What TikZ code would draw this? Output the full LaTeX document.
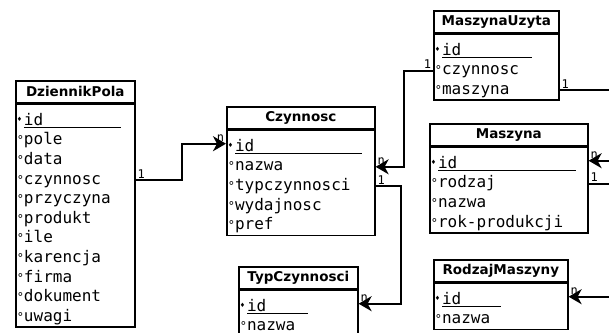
\documentclass[tikz,border=0pt]{standalone}
\usepackage{fontspec}
\setsansfont{DejaVu Sans}
\setmonofont{DejaVu Sans Mono}
\newfontfamily\symfont{DejaVu Sans}
\usetikzlibrary{positioning,shapes.multipart,arrows.meta}

\newcommand\attr[1]{\rule[-5pt]{0pt}{18pt}\makebox[7.2pt][l]{\fontsize{12}{12}\selectfont °}#1}
\newcommand\pkey[1]{\rule[-5pt]{0pt}{25pt}\makebox[7.2pt][l]{\raisebox{4pt}{\symfont\fontsize{6}{6}\selectfont ♦}}\underline{\makebox[#1][l]{id}}}

\begin{document}
\begin{tikzpicture}[x=1pt, y=-1pt,
  tabhead/.style = {draw, line width=1.6pt, anchor=north west, inner sep=0pt, minimum height=22pt,
    font=\sffamily\bfseries\fontsize{13.5}{14}\selectfont},
  tabbody/.style = {draw, line width=1.6pt, rectangle split, rectangle split parts=#1,
    rectangle split draw splits=false, align=left, inner xsep=1pt, inner ysep=0pt,
    font=\ttfamily\fontsize{16}{20}\selectfont},
  rel/.style = {line width=2pt, -{Stealth[length=13pt, width=15pt, inset=4pt]}},
  card/.style = {inner sep=1pt, font=\ttfamily\fontsize{12}{12}\selectfont}]
  \useasboundingbox (0,0) rectangle (609,332);

  \node[tabhead, minimum width=119pt] (dpHead) at (15,80) {DziennikPola};
  \node[tabbody=11, text width=117pt] (dp) [below=0pt of dpHead] {\pkey{97pt}
    \nodepart{two}\attr{pole}
    \nodepart{three}\attr{data}
    \nodepart{four}\attr{czynnosc}
    \nodepart{five}\attr{przyczyna}
    \nodepart{six}\attr{produkt}
    \nodepart{seven}\attr{ile}
    \nodepart{eight}\attr{karencja}
    \nodepart{nine}\attr{firma}
    \nodepart{ten}\attr{dokument}
    \nodepart{eleven}\attr{uwagi}};

  \node[tabhead, minimum width=148pt] (czHead) at (226,106) {Czynnosc};
  \node[tabbody=5, text width=146pt] (cz) [below=0pt of czHead] {\pkey{127pt}
    \nodepart{two}\attr{nazwa}
    \nodepart{three}\attr{typczynnosci}
    \nodepart{four}\attr{wydajnosc}
    \nodepart{five}\attr{pref}};

  \node[tabhead, minimum width=125pt] (muHead) at (433,10) {MaszynaUzyta};
  \node[tabbody=3, text width=123pt] (mu) [below=0pt of muHead] {\pkey{90pt}
    \nodepart{two}\attr{czynnosc}
    \nodepart{three}\attr{maszyna}};

  \node[tabhead, minimum width=158pt] (mHead) at (429,123) {Maszyna};
  \node[tabbody=4, text width=156pt] (m) [below=0pt of mHead] {\pkey{138pt}
    \nodepart{two}\attr{rodzaj}
    \nodepart{three}\attr{nazwa}
    \nodepart{four}\attr{rok-produkcji}};

  \node[tabhead, minimum width=134pt] (rmHead) at (433,259) {RodzajMaszyny};
  \node[tabbody=2, text width=132pt] (rm) [below=0pt of rmHead] {\pkey{59pt}
    \nodepart{two}\attr{nazwa}};

  \node[tabhead, minimum width=119pt] (tcHead) at (238,266) {TypCzynnosci};
  \node[tabbody=2, text width=117pt] (tc) [below=0pt of tcHead] {\pkey{61pt}
    \nodepart{two}\attr{nazwa}};

  \draw[rel] (dp.four east) node[card, above right] (c1) {1} -- ++(46,0) |- (cz.text west) node[card, above left] (n1) {n};
  \draw[rel] (mu.two west) node[card, above left] (c2) {1} -- ++(-29,0) |- (cz.two east) node[card, above right] (n2) {n};
  \draw[rel] (cz.three east) node[card, above right] (c3) {1} -- ++(25,0) |- (tc.text east) node[card, above right] (n3) {n};
  \draw[rel] (mu.three east) node[card, above right] (c4) {1} -- ++(65,0) |- (m.text east) node[card, above right] (n4) {n};
  \draw[rel] (m.two east) node[card, above right] (c5) {1} -- ++(30,0) |- (rm.text east) node[card, above right] (n5) {n};
\end{tikzpicture}
\end{document}
